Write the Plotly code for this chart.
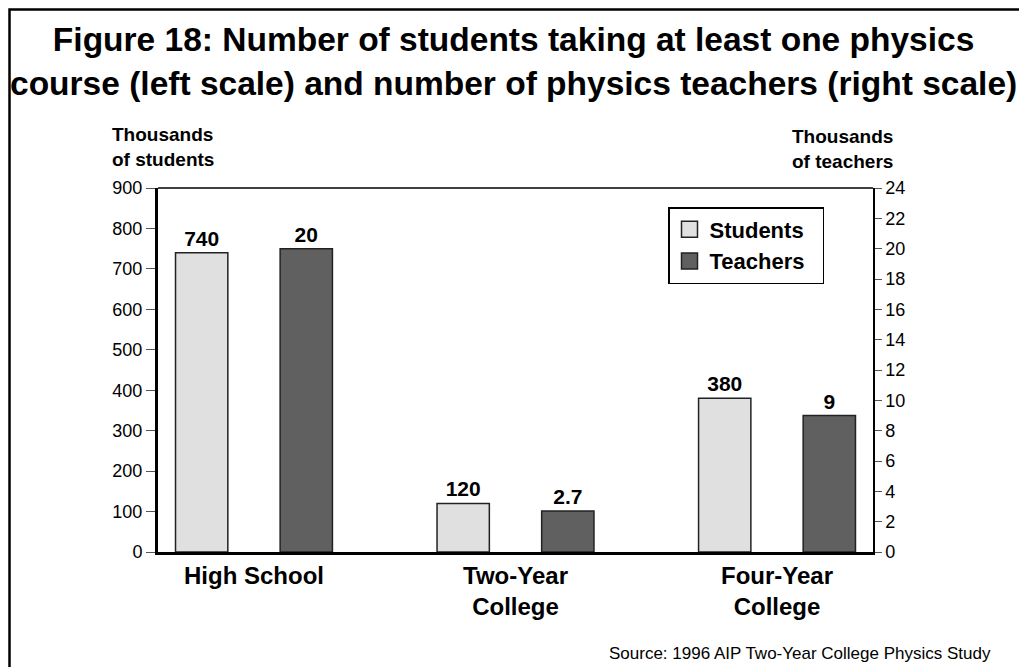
import plotly.graph_objects as go

# ---- data ----
categories = ["High School", "Two-Year<br>College", "Four-Year<br>College"]
students = [740, 120, 380]          # thousands of students (left scale)
teachers = [20, 2.7, 9]             # thousands of teachers (right scale)
student_labels = ["740", "120", "380"]
teacher_labels = ["20", "2.7", "9"]
left_ticks = [0, 100, 200, 300, 400, 500, 600, 700, 800, 900]
right_ticks = [0, 2, 4, 6, 8, 10, 12, 14, 16, 18, 20, 22, 24]

# ---- layout geometry (window pixels; the page adds an 8px body margin) ----
OFF = 8
W, H = 1027 - OFF, 667 - OFF
L, R, T, B = 158 - OFF, 873 - OFF, 188 - OFF, 552 - OFF


def xp(px):
    return (px - OFF - L) / (R - L)


def yp(py):
    return (B - (py - OFF)) / (B - T)


FONT = "Liberation Sans, Arial, Helvetica, sans-serif"
LIGHT = "#e0e0e0"
DARK = "#606060"
EDGE = "#222222"

fig = go.Figure()

fig.add_trace(go.Bar(
    x=categories, y=students, yaxis="y", name="Students",
    width=0.2, offset=-0.3,
    marker=dict(color=LIGHT, line=dict(color=EDGE, width=1.5)),
    text=student_labels, textposition="outside", cliponaxis=False,
    textfont=dict(family=FONT, size=21, color="black", weight="bold"),
    showlegend=False,
))
fig.add_trace(go.Bar(
    x=categories, y=teachers, yaxis="y2", name="Teachers",
    width=0.2, offset=0.1,
    marker=dict(color=DARK, line=dict(color=EDGE, width=1.5)),
    text=teacher_labels, textposition="outside", cliponaxis=False,
    textfont=dict(family=FONT, size=21, color="black", weight="bold"),
    showlegend=False,
))

# legend entries
for nm, col in [("Students", LIGHT), ("Teachers", DARK)]:
    fig.add_trace(go.Scatter(
        x=[None], y=[None], mode="markers", name=nm + "\u00a0\u00a0",
        marker=dict(symbol="square", size=16, color=col,
                    line=dict(color=EDGE, width=1.5)),
        showlegend=True,
    ))

annotations = [
    dict(text="<b>Figure 18: Number of students taking at least one physics<br>"
              "course (left scale) and number of physics teachers (right scale)</b>",
         x=xp(513), y=yp(62), xref="paper", yref="paper",
         xanchor="center", yanchor="middle", showarrow=False, align="center",
         font=dict(family=FONT, size=33.5, color="black")),
    dict(text="<b>Thousands<br>of students</b>",
         x=xp(110), y=yp(147), xref="paper", yref="paper",
         xanchor="left", yanchor="middle", showarrow=False, align="left",
         font=dict(family=FONT, size=19, color="black")),
    dict(text="<b>Thousands<br>of teachers</b>",
         x=xp(895), y=yp(149), xref="paper", yref="paper",
         xanchor="right", yanchor="middle", showarrow=False, align="left",
         font=dict(family=FONT, size=19, color="black")),
    dict(text="Source: 1996 AIP Two-Year College Physics Study",
         x=xp(993), y=yp(653), xref="paper", yref="paper",
         xanchor="right", yanchor="middle", showarrow=False,
         font=dict(family=FONT, size=17, color="black")),
]

shapes = [
    # outer frame (extends past the right/bottom edges like the original)
    dict(type="rect", xref="paper", yref="paper",
         x0=xp(OFF + 1.5), x1=xp(1045), y0=yp(690), y1=yp(OFF + 1.5),
         line=dict(color="black", width=2.5), fillcolor="rgba(0,0,0,0)"),
    # top border of plot area
    dict(type="line", xref="paper", yref="paper",
         x0=0, x1=1, y0=1, y1=1, line=dict(color="black", width=1.5)),
]

fig.update_layout(
    width=W, height=H,
    margin=dict(l=L, r=W - R, t=T, b=H - B, pad=0),
    paper_bgcolor="white", plot_bgcolor="white",
    font=dict(family=FONT, color="black"),
    barmode="group",
    xaxis=dict(
        type="category", range=[-0.367, 2.367],
        showline=True, linecolor="black", linewidth=3,
        ticks="", showgrid=False, zeroline=False,
        tickfont=dict(family=FONT, size=24, color="black", weight="bold"),
    ),
    yaxis=dict(
        range=[0, 900], tickvals=left_ticks,
        showline=True, linecolor="black", linewidth=3,
        ticks="outside", ticklen=9, tickwidth=1, tickcolor="#555",
        showgrid=False, zeroline=False,
        tickfont=dict(family=FONT, size=18, color="black"),
    ),
    yaxis2=dict(
        range=[0, 24], tickvals=right_ticks,
        overlaying="y", side="right", anchor="x",
        showline=True, linecolor="black", linewidth=1.5,
        ticks="outside", ticklen=7, tickwidth=1, tickcolor="#555",
        showgrid=False, zeroline=False,
        tickfont=dict(family=FONT, size=18, color="black"),
    ),
    legend=dict(
        x=xp(668), y=yp(207), xanchor="left", yanchor="top",
        bordercolor="black", borderwidth=1.5, bgcolor="white",
        font=dict(family=FONT, size=22, color="black", weight="bold"),
        itemwidth=30, tracegroupgap=0,
    ),
    annotations=annotations,
    shapes=shapes,
)

fig.write_html("out.html")
